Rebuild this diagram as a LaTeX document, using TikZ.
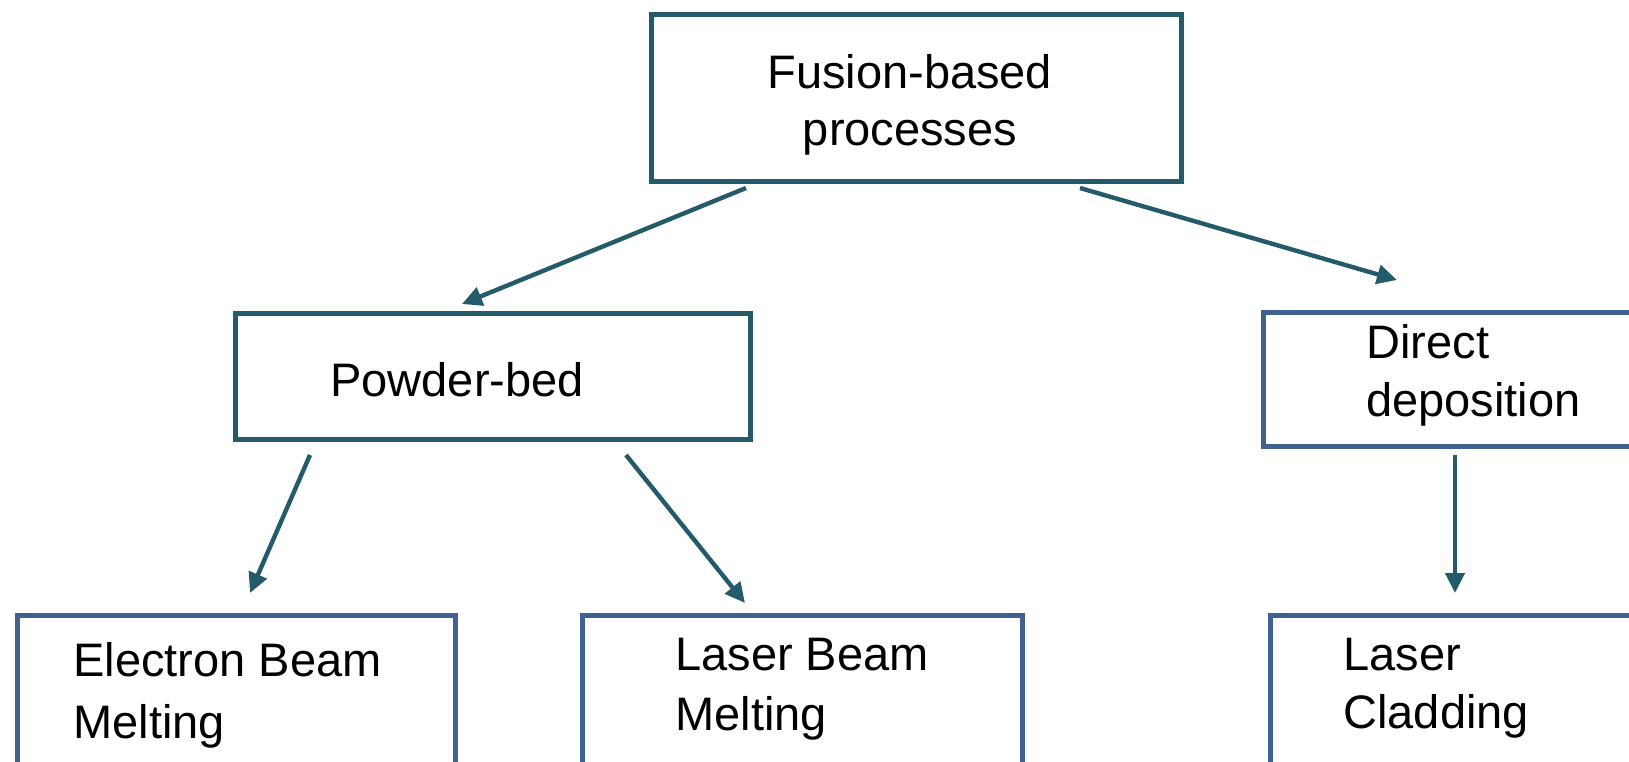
\documentclass[tikz,border=0pt]{standalone}
\usepackage{fontspec}
\setmainfont{Liberation Sans}
\usetikzlibrary{arrows.meta}
\definecolor{teal1}{HTML}{245B6A}
\definecolor{blue1}{HTML}{3F6291}
\tikzset{
  box/.style={draw=#1, line width=2.5pt, rectangle, inner sep=0pt, anchor=north west},
  lbl/.style={anchor=base west, inner sep=0pt, font=\fontsize{23.5}{28}\selectfont},
  arr/.style={draw=teal1, line width=2.2pt, -{Triangle[length=10pt,width=9.5pt]}}
}
\begin{document}
\begin{tikzpicture}[x=0.5pt,y=-0.5pt]
\useasboundingbox (0,0) rectangle (1629,761);
\clip (0,0) rectangle (1629,761);
% boxes
\node[box=teal1, minimum width=265pt, minimum height=83.5pt] (top) at (649,12) {};
\node[box=teal1, minimum width=257.5pt, minimum height=63pt] (pb) at (233,311) {};
\node[box=blue1, minimum width=200pt, minimum height=67pt] (dd) at (1261,310) {};
\node[box=blue1, minimum width=219pt, minimum height=100pt] (ebm) at (15,613) {};
\node[box=blue1, minimum width=220pt, minimum height=100pt] (lbm) at (580,613) {};
\node[box=blue1, minimum width=200pt, minimum height=100pt] (lc) at (1268,613) {};
% texts
\node[lbl] (t1) at (767,88) {Fusion-based};
\node[lbl, anchor=base] (t2) at (910,145) {processes};
\node[lbl] (t3) at (330,396) {Powder-bed};
\node[lbl] (t4) at (1366,358) {Direct};
\node[lbl] (t5) at (1366,416) {deposition};
\node[lbl] (t6) at (73,676) {Electron Beam};
\node[lbl] (t7) at (73,738) {Melting};
\node[lbl] (t8) at (675,670) {Laser Beam};
\node[lbl] (t9) at (675,730) {Melting};
\node[lbl] (t10) at (1343,670) {Laser};
\node[lbl] (t11) at (1343,728) {Cladding};
% connector endpoints
\coordinate (a1s) at (746,188);
\coordinate (a1e) at (462,304);
\coordinate (a2s) at (1080,188);
\coordinate (a2e) at (1397,280);
\coordinate (a3s) at (310,455);
\coordinate (a3e) at (250,593);
\coordinate (a4s) at (626,455);
\coordinate (a4e) at (745,603);
\coordinate (a5s) at (1455,455);
\coordinate (a5e) at (1455,593);
\draw[arr] (a1s) -- (a1e);
\draw[arr] (a2s) -- (a2e);
\draw[arr] (a3s) -- (a3e);
\draw[arr] (a4s) -- (a4e);
\draw[arr] (a5s) -- (a5e);
\end{tikzpicture}
\end{document}
